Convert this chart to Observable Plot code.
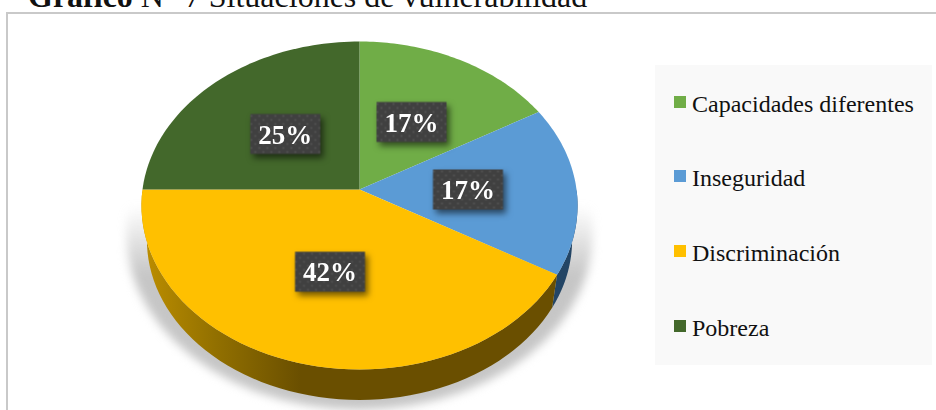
<!DOCTYPE html>
<html>
<head>
<meta charset="utf-8">
<script src="https://cdn.jsdelivr.net/npm/d3@7"></script>
<script src="https://cdn.jsdelivr.net/npm/@observablehq/plot@0.6"></script>
<style>
html,body{margin:0;padding:0;background:#fff;overflow:hidden}
#page{position:relative;width:936px;height:410px;overflow:hidden;font-family:"Liberation Serif",serif}
#frame{position:absolute;left:6px;top:12px;right:0;bottom:-5px;border:2px solid #c9c9c9;border-right:0;box-sizing:border-box}
#title{position:absolute;left:28px;top:-22px;font-size:32px;line-height:36px;white-space:nowrap;color:#111}
#legend{position:absolute;left:655px;top:65px;width:277px;height:300px;background:#f9f9f9}
.item{position:absolute;left:19px;height:26px;white-space:nowrap;font-size:24px;line-height:26px;color:#111}
.item i{position:absolute;left:0;top:5px;width:12px;height:12px}
.item span{position:absolute;left:18px;top:0}
svg{position:absolute;left:0;top:0;background:transparent}
</style>
</head>
<body>
<div id="page"><div id="frame"></div><div id="title"><b>Gráfico</b> N° 7 Situaciones de vulnerabilidad</div><div id="legend"></div></div>
<script>
const categories = ["Capacidades diferentes", "Inseguridad", "Discriminación", "Pobreza"];
const counts = [2, 2, 5, 3];
const colors = ["#70ad47", "#5b9bd5", "#ffc000", "#43682b"];

// perspective of the tilted pie
const k = 0.0976, depthShift = 0.2155, depthScale = 0.975;
const project = (t, r = 1, s = 1, d = 0) => {
  const u = r * Math.sin(t), v = -r * Math.cos(t), w = 1 - k * v;
  return {x: s * u / w, y: s * v / w + d};
};
const total = d3.sum(counts);
let acc = 0;
const slices = categories.map((name, i) => {
  const a0 = acc / total * 2 * Math.PI; acc += counts[i];
  return {name, a0, a1: acc / total * 2 * Math.PI, share: counts[i] / total};
});
const arc = (a0, a1, s = 1, d = 0) => d3.range(0, 61).map(j => project(a0 + (a1 - a0) * j / 60, 1, s, d));

const face = slices.flatMap(sl => [{x: 0, y: 0}, ...arc(sl.a0, sl.a1), {x: 0, y: 0}].map(p => ({...p, name: sl.name})));
const halfTurn = Math.PI / 2;
const rimBlue = [...arc(halfTurn, slices[1].a1), ...arc(slices[1].a1, halfTurn, depthScale, depthShift)];
const rimYellow = [...arc(slices[2].a0, slices[2].a1), ...arc(slices[2].a1, slices[2].a0, depthScale, depthShift)];
const shadow = arc(0, 2 * Math.PI, 1.07, 0.17);
const labels = slices.map(sl => ({...project((sl.a0 + sl.a1) / 2, 0.5), text: d3.format(".0%")(sl.share)}));
const box = {draw(c) { c.rect(-35, -20, 70, 40); }};

const defs = () => {
  const g = d3.create("svg:g");
  const dn = g.append("defs");
  const rim = dn.append("linearGradient").attr("id", "rimG").attr("gradientUnits", "userSpaceOnUse")
    .attr("x1", 145).attr("x2", 300).attr("y1", 0).attr("y2", 0);
  [[0, "#bb8d00"], [0.45, "#927000"], [1, "#6a4f00"]].forEach(([o, c]) => rim.append("stop").attr("offset", o).attr("stop-color", c));
  const sh = dn.append("linearGradient").attr("id", "shG").attr("gradientUnits", "userSpaceOnUse")
    .attr("x1", 0).attr("x2", 0).attr("y1", 205).attr("y2", 275);
  sh.append("stop").attr("offset", 0).attr("stop-color", "#c6c6c6").attr("stop-opacity", 0);
  sh.append("stop").attr("offset", 1).attr("stop-color", "#c6c6c6").attr("stop-opacity", 1);
  const p = dn.append("pattern").attr("id", "dots").attr("patternUnits", "userSpaceOnUse")
    .attr("width", 8).attr("height", 8);
  p.append("rect").attr("width", 8).attr("height", 8).attr("fill", "#404040");
  [[2, 2], [6, 6]].forEach(([x, y]) => p.append("circle").attr("cx", x).attr("cy", y).attr("r", 0.9).attr("fill", "#585858"));
  return g.node();
};

const chart = Plot.plot({
  width: 936, height: 410, margin: 0,
  style: {background: "transparent"},
  x: {domain: [-1, 1], range: [142, 576], axis: null},
  y: {domain: [-1, 1], range: [26.6, 351.4], axis: null},
  color: {domain: categories, range: colors},
  marks: [
    defs,
    Plot.line(shadow, {x: "x", y: "y", fill: "url(#shG)", stroke: "none"}),
    Plot.line(rimBlue, {x: "x", y: "y", fill: "#234565", stroke: "none"}),
    Plot.line(rimYellow, {x: "x", y: "y", fill: "url(#rimG)", stroke: "none"}),
    Plot.line(face, {x: "x", y: "y", z: "name", fill: "name", stroke: "none"}),
    Plot.dot(labels, {x: "x", y: "y", symbol: box, fill: "url(#dots)", stroke: "none"}),
    Plot.text(labels, {x: "x", y: "y", text: "text", fill: "#fff", fontSize: 27, fontWeight: "bold", fontFamily: "Liberation Serif", dy: 1})
  ]
});
d3.select(chart).select('g[aria-label="line"]').style("filter", "blur(5px)");
d3.select(chart).select('g[aria-label="dot"]').style("filter", "drop-shadow(3px 4px 3px rgba(0,0,0,.55))");
document.getElementById("page").insertBefore(chart, document.getElementById("title"));

const itemTops = [91, 165, 240, 315];
const legend = d3.select("#legend");
categories.forEach((name, i) => {
  const it = legend.append("div").attr("class", "item").style("top", (itemTops[i] - 65) + "px");
  it.append("i").style("background", colors[i]);
  it.append("span").text(name);
});
</script>
</body>
</html>
